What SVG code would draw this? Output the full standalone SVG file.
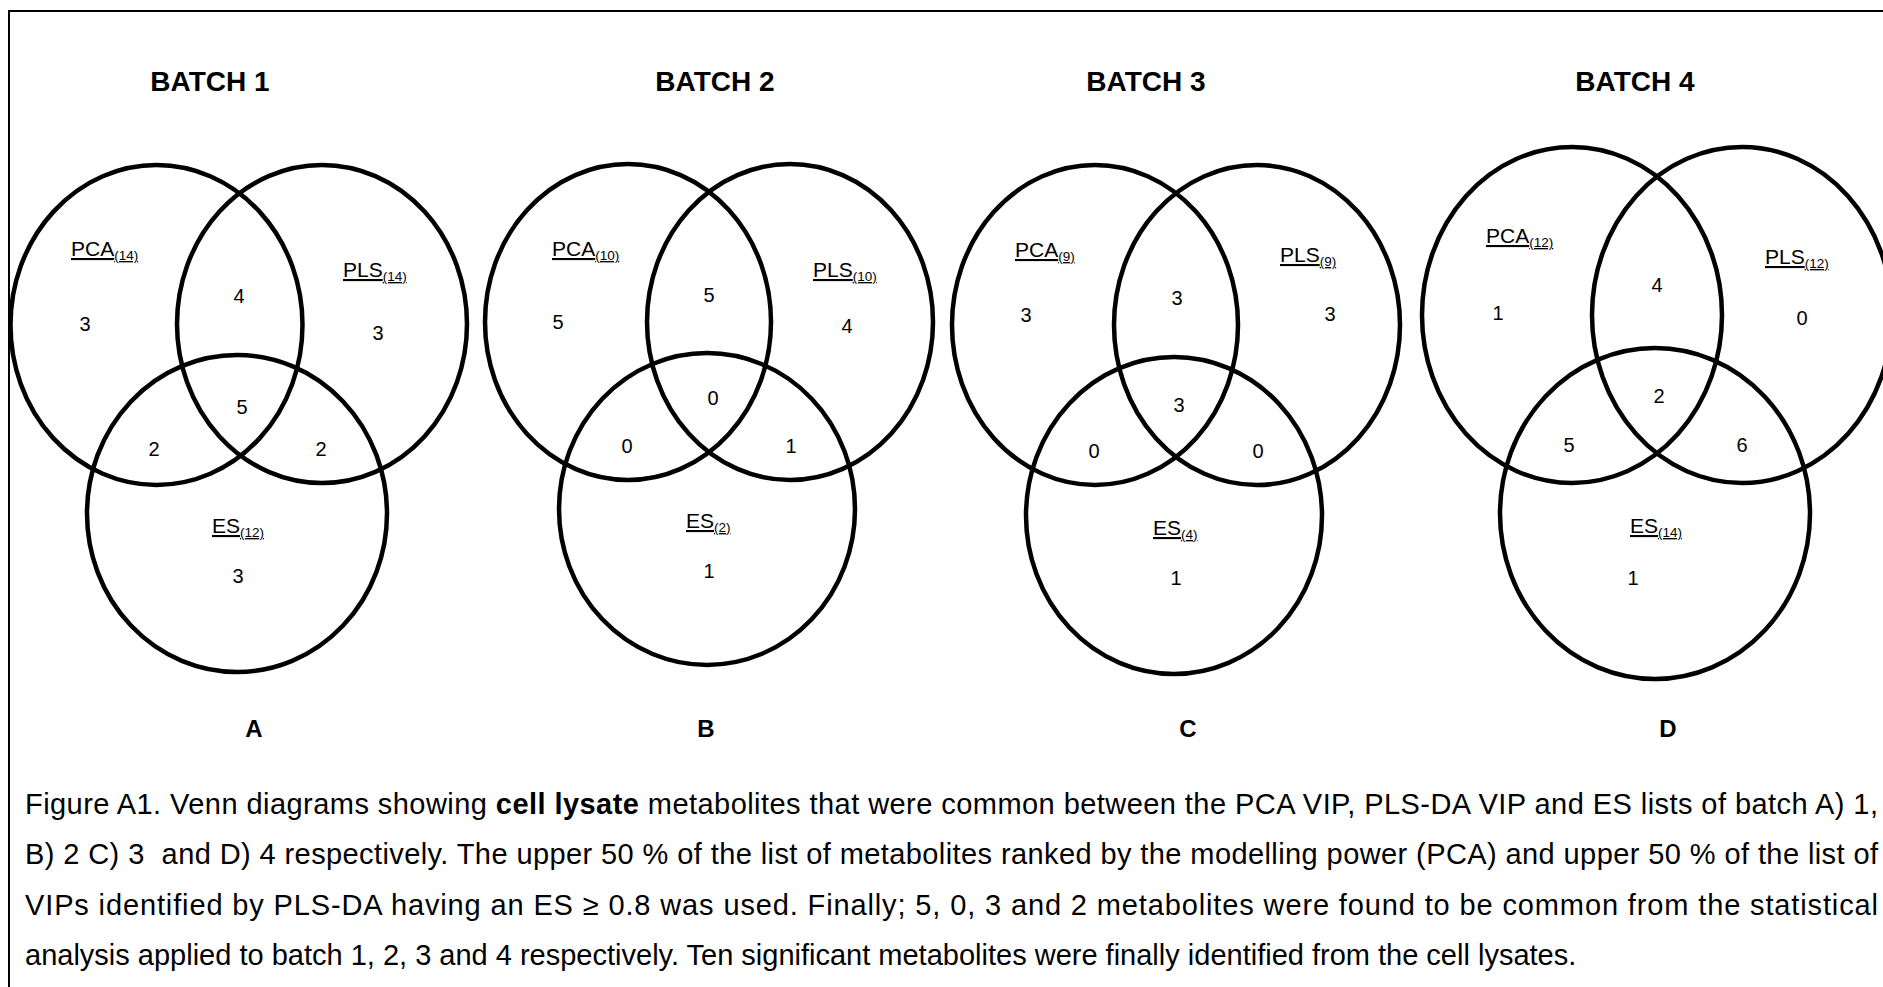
<svg xmlns="http://www.w3.org/2000/svg" width="1883" height="987" viewBox="0 0 1883 987">
<style>
text{font-family:"Liberation Sans",Arial,sans-serif;fill:#000}
.title{font-size:28px;font-weight:bold;text-anchor:middle}
.num{font-size:20px;text-anchor:middle}
.lab{font-size:21px;text-decoration:underline}
.sub{font-size:13.5px}
.letter{font-size:24px;font-weight:bold;text-anchor:middle}
.cap{font-size:29px}
ellipse{fill:none;stroke:#000;stroke-width:4.5}
</style>
<rect width="1883" height="987" fill="#fff"/>
<path d="M9,990 V11 H1890" fill="none" stroke="#000" stroke-width="2"/>

<g id="batch1">
<text class="title" x="210" y="91">BATCH 1</text>
<ellipse cx="156.5" cy="325" rx="146" ry="160"/>
<ellipse cx="322" cy="324" rx="145" ry="159"/>
<ellipse cx="237" cy="513.5" rx="150" ry="158.5"/>
<text class="lab" x="71" y="256">PCA<tspan class="sub" dy="4">(14)</tspan></text>
<text class="lab" x="343" y="277">PLS<tspan class="sub" dy="4">(14)</tspan></text>
<text class="lab" x="212" y="533">ES<tspan class="sub" dy="4">(12)</tspan></text>
<text class="num" x="85" y="331">3</text>
<text class="num" x="239" y="303">4</text>
<text class="num" x="378" y="340">3</text>
<text class="num" x="242" y="414">5</text>
<text class="num" x="154" y="456">2</text>
<text class="num" x="321" y="456">2</text>
<text class="num" x="238" y="583">3</text>
<text class="letter" x="254" y="737">A</text>
</g>

<g id="batch2">
<text class="title" x="715" y="91">BATCH 2</text>
<ellipse cx="628" cy="322" rx="143" ry="158"/>
<ellipse cx="790" cy="322" rx="143" ry="158"/>
<ellipse cx="707" cy="509" rx="148" ry="156"/>
<text class="lab" x="552" y="256">PCA<tspan class="sub" dy="4">(10)</tspan></text>
<text class="lab" x="813" y="277">PLS<tspan class="sub" dy="4">(10)</tspan></text>
<text class="lab" x="686" y="528">ES<tspan class="sub" dy="4">(2)</tspan></text>
<text class="num" x="558" y="329">5</text>
<text class="num" x="709" y="302">5</text>
<text class="num" x="847" y="333">4</text>
<text class="num" x="713" y="405">0</text>
<text class="num" x="627" y="453">0</text>
<text class="num" x="791" y="453">1</text>
<text class="num" x="709" y="578">1</text>
<text class="letter" x="706" y="737">B</text>
</g>

<g id="batch3">
<text class="title" x="1146" y="91">BATCH 3</text>
<ellipse cx="1095" cy="325" rx="143" ry="160"/>
<ellipse cx="1257" cy="325" rx="143" ry="160"/>
<ellipse cx="1174" cy="515.5" rx="148" ry="158.5"/>
<text class="lab" x="1015" y="257">PCA<tspan class="sub" dy="4">(9)</tspan></text>
<text class="lab" x="1280" y="262">PLS<tspan class="sub" dy="4">(9)</tspan></text>
<text class="lab" x="1153" y="535">ES<tspan class="sub" dy="4">(4)</tspan></text>
<text class="num" x="1026" y="322">3</text>
<text class="num" x="1177" y="305">3</text>
<text class="num" x="1330" y="321">3</text>
<text class="num" x="1179" y="412">3</text>
<text class="num" x="1094" y="458">0</text>
<text class="num" x="1258" y="458">0</text>
<text class="num" x="1176" y="585">1</text>
<text class="letter" x="1188" y="737">C</text>
</g>

<g id="batch4">
<text class="title" x="1635" y="91">BATCH 4</text>
<ellipse cx="1572" cy="315" rx="150" ry="168"/>
<ellipse cx="1742" cy="315" rx="150" ry="168"/>
<ellipse cx="1655" cy="513.5" rx="155" ry="165.5"/>
<text class="lab" x="1486" y="243">PCA<tspan class="sub" dy="4">(12)</tspan></text>
<text class="lab" x="1765" y="264">PLS<tspan class="sub" dy="4">(12)</tspan></text>
<text class="lab" x="1630" y="533">ES<tspan class="sub" dy="4">(14)</tspan></text>
<text class="num" x="1498" y="320">1</text>
<text class="num" x="1657" y="292">4</text>
<text class="num" x="1802" y="325">0</text>
<text class="num" x="1659" y="403">2</text>
<text class="num" x="1569" y="452">5</text>
<text class="num" x="1742" y="452">6</text>
<text class="num" x="1633" y="585">1</text>
<text class="letter" x="1668" y="737">D</text>
</g>

<g id="caption">
<text class="cap" x="25" y="814" textLength="1853" lengthAdjust="spacing">Figure A1. Venn diagrams showing <tspan font-weight="bold">cell lysate</tspan> metabolites that were common between the PCA VIP, PLS-DA VIP and ES lists of batch A) 1,</text>
<text class="cap" x="25" y="864" textLength="1853" lengthAdjust="spacing">B) 2 C) 3&#160; and D) 4 respectively. The upper 50 % of the list of metabolites ranked by the modelling power (PCA) and upper 50 % of the list of</text>
<text class="cap" x="25" y="915" textLength="1853" lengthAdjust="spacing">VIPs identified by PLS-DA having an ES ≥ 0.8 was used. Finally; 5, 0, 3 and 2 metabolites were found to be common from the statistical</text>
<text class="cap" x="25" y="965">analysis applied to batch 1, 2, 3 and 4 respectively. Ten significant metabolites were finally identified from the cell lysates.</text>
</g>
</svg>
